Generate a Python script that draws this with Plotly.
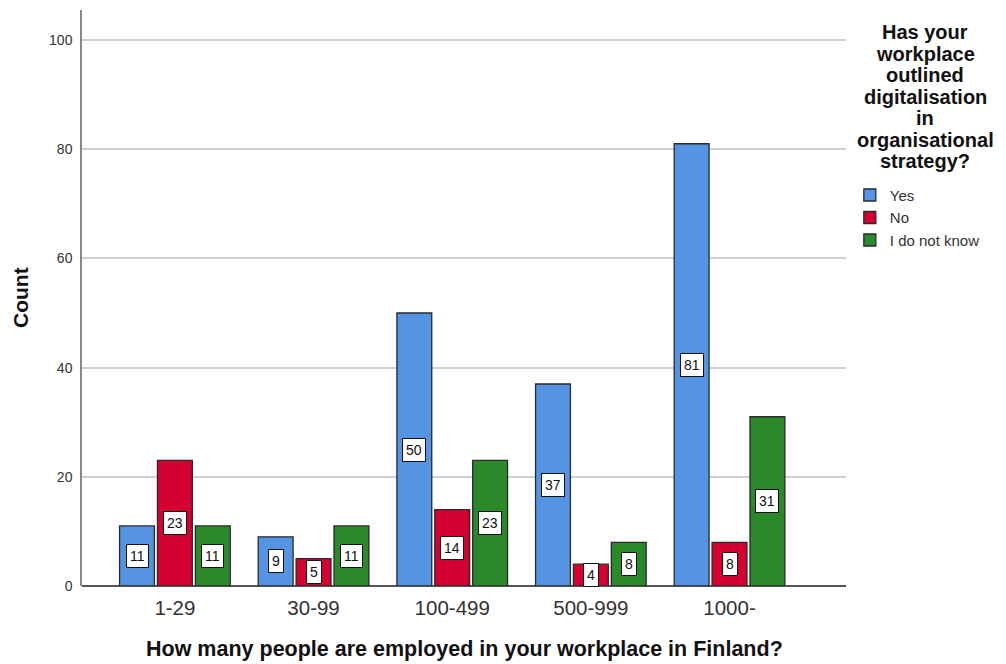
import plotly.graph_objects as go

categories = ["1-29", "30-99", "100-499", "500-999", "1000-"]
yes = [11, 9, 50, 37, 81]
no = [23, 5, 14, 4, 8]
dont_know = [11, 11, 23, 8, 31]
series_names = ["Yes", "No", "I do not know"]
series_values = [yes, no, dont_know]
colors = ["#5593E3", "#D50032", "#2A8A2A"]
y_ticks = [0, 20, 40, 60, 80, 100]
legend_title_lines = ["Has your", "workplace", "outlined", "digitalisation", "in",
                      "organisational", "strategy?"]
x_title = "How many people are employed in your workplace in Finland?"
y_title = "Count"

FONT = "Liberation Sans, Arial, sans-serif"
BARGAP = 0.18
BARGROUPGAP = 0.08

fig = go.Figure()
xs = list(range(len(categories)))
for name, vals, col in zip(series_names, series_values, colors):
    fig.add_trace(go.Bar(
        x=xs, y=vals, name=name,
        marker=dict(color=col, line=dict(color="#2A2A2A", width=1.3)),
        hoverinfo="y+name",
    ))

# value labels in white boxes, centered in each bar
n = len(series_names)
slot = (1 - BARGAP) / n
for j, vals in enumerate(series_values):
    off = (j - (n - 1) / 2) * slot
    for i, v in enumerate(vals):
        fig.add_annotation(
            x=xs[i] + off, y=v / 2, text=str(v), showarrow=False,
            font=dict(family=FONT, size=14, color="#111111"),
            bgcolor="white", bordercolor="#111111", borderwidth=1, borderpad=3,
        )

# axis titles
fig.add_annotation(xref="paper", yref="paper", x=0.5, y=0, yanchor="middle",
                   yshift=-63, showarrow=False,
                   text="<b>" + x_title + "</b>",
                   font=dict(family=FONT, size=21.5, color="#111111"))
fig.add_annotation(xref="paper", yref="paper", x=0, y=0.5, xanchor="center",
                   xshift=-62, textangle=-90, showarrow=False,
                   text="<b>" + y_title + "</b>",
                   font=dict(family=FONT, size=21, color="#111111"))

# legend title (centered block of lines)
for k, line in enumerate(legend_title_lines):
    fig.add_annotation(xref="paper", yref="paper", x=1, y=1, xanchor="center",
                       yanchor="middle", xshift=79, yshift=-22 - 21.5 * k,
                       showarrow=False, text="<b>" + line + "</b>",
                       font=dict(family=FONT, size=20, color="#111111"))

fig.update_layout(
    width=998, height=656,
    paper_bgcolor="white", plot_bgcolor="white",
    margin=dict(l=74, r=160, t=2, b=78),
    barmode="group", bargap=BARGAP, bargroupgap=BARGROUPGAP,
    font=dict(family=FONT, color="#222222"),
    showlegend=True,
    legend=dict(
        x=1.005, xanchor="left", y=0.707, yanchor="top",
        font=dict(family=FONT, size=15, color="#333333"),
        itemwidth=30, tracegroupgap=0, bgcolor="rgba(0,0,0,0)",
    ),
    xaxis=dict(
        tickmode="array", tickvals=xs, ticktext=categories,
        range=[-0.67, 4.84], showgrid=False, zeroline=False,
        showline=False, ticks="", ticklabelstandoff=7,
        tickfont=dict(family=FONT, size=20.5, color="#333333"),
    ),
    yaxis=dict(
        range=[0, 105.5], tickvals=y_ticks, showgrid=True,
        gridcolor="#D0D0D0", gridwidth=1.5,
        zeroline=True, zerolinecolor="#555555", zerolinewidth=1.5,
        showline=True, linecolor="#888888", linewidth=1.5, ticks="",
        ticklabelstandoff=5,
        tickfont=dict(family=FONT, size=14, color="#333333"),
    ),
)

fig.write_html("out.html")
